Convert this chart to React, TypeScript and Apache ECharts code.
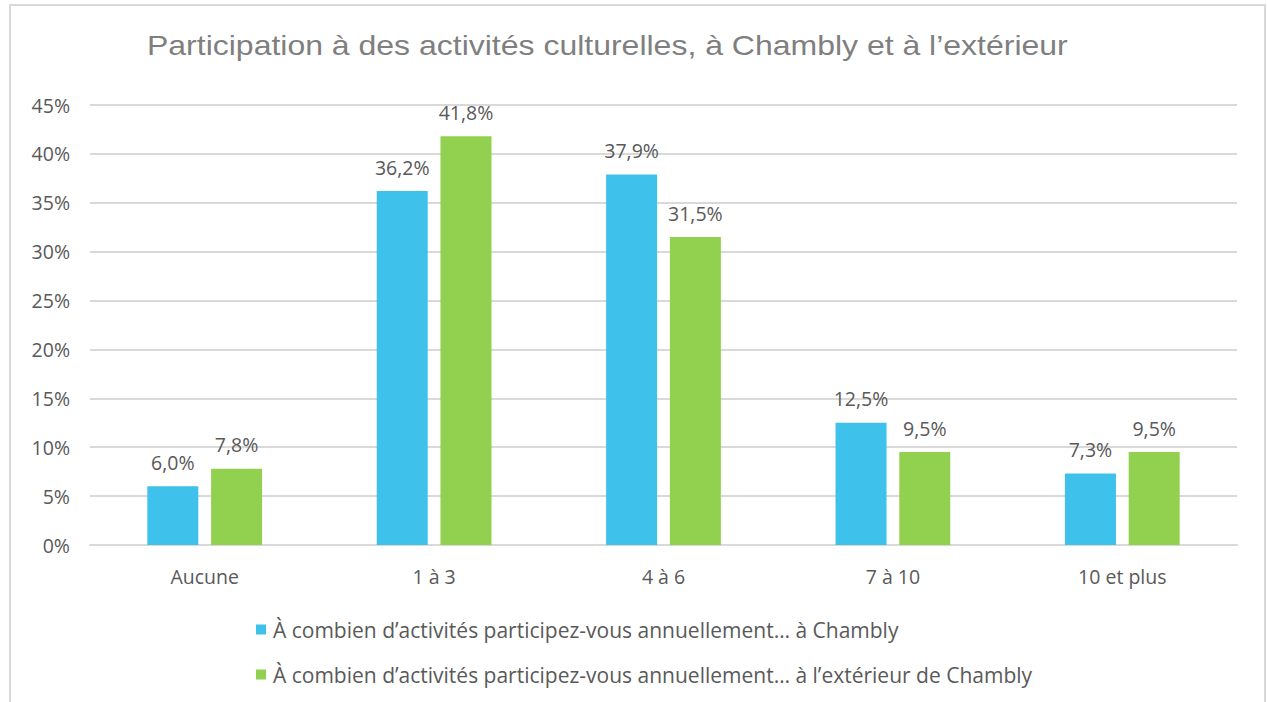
import React, { useEffect, useRef } from "react";
import * as echarts from "echarts";

const categories = ["Aucune", "1 à 3", "4 à 6", "7 à 10", "10 et plus"];
const chamblyValues = [6.0, 36.2, 37.9, 12.5, 7.3];
const exterieurValues = [7.8, 41.8, 31.5, 9.5, 9.5];
const seriesNames = [
  "À combien d’activités participez-vous annuellement… à Chambly",
  "À combien d’activités participez-vous annuellement… à l’extérieur de Chambly",
];
const titleText = "Participation à des activités culturelles, à Chambly et à l’extérieur";

const labelFont = "'Open Sans', 'Noto Sans', sans-serif";

export default function App() {
  const ref = useRef<HTMLDivElement>(null);
  useEffect(() => {
    if (!ref.current) return;
    const chart = echarts.init(ref.current, null, { renderer: "svg" });
    const fmt = (p: any) => p.value.toFixed(1).replace(".", ",") + "%";
    chart.setOption({
      animation: false,
      backgroundColor: "#ffffff",
      graphic: [
        {
          type: "rect",
          shape: { x: 10, y: 5, width: 1255, height: 720 },
          style: { fill: "none", stroke: "#d9d9d9", lineWidth: 2 },
          silent: true,
        },
        {
          type: "text",
          x: 147,
          y: 45,
          scaleX: 1.143,
          silent: true,
          style: {
            text: titleText,
            font: "28px 'Liberation Sans', Arial, sans-serif",
            fill: "#7f7f7f",
            verticalAlign: "middle",
            align: "left",
          },
        },
      ],
      grid: { left: 90, right: 30, top: 105, bottom: 157 },
      legend: {
        orient: "vertical",
        left: 251,
        top: 614,
        itemWidth: 10,
        itemHeight: 10,
        itemGap: 24,
        icon: "rect",
        textStyle: { fontFamily: labelFont, fontSize: 21, color: "#595959", padding: [0, 0, 0, 2] },
        data: seriesNames,
      },
      xAxis: {
        type: "category",
        data: categories,
        axisLine: { lineStyle: { color: "#d9d9d9", width: 2 } },
        axisTick: { show: false },
        axisLabel: { fontFamily: labelFont, fontSize: 19.5, color: "#595959", margin: 21 },
      },
      yAxis: {
        type: "value",
        min: 0,
        max: 45,
        interval: 5,
        axisLine: { show: false },
        axisTick: { show: false },
        splitLine: { lineStyle: { color: "#d9d9d9", width: 2 } },
        axisLabel: { fontFamily: labelFont, fontSize: 19.5, color: "#595959", margin: 20, formatter: "{value}%" },
      },
      series: [
        {
          name: seriesNames[0],
          type: "bar",
          data: chamblyValues,
          itemStyle: { color: "#3EC1EA" },
          barWidth: 51,
          barGap: "25%",
          label: { show: true, position: "top", distance: 14, formatter: fmt, fontFamily: labelFont, fontSize: 19.5, color: "#595959" },
        },
        {
          name: seriesNames[1],
          type: "bar",
          data: exterieurValues,
          itemStyle: { color: "#92D050" },
          barWidth: 51,
          barGap: "25%",
          label: { show: true, position: "top", distance: 14, formatter: fmt, fontFamily: labelFont, fontSize: 19.5, color: "#595959" },
        },
      ],
    });
    return () => chart.dispose();
  }, []);
  return <div ref={ref} style={{ position: "fixed", left: 0, top: 0, width: 1267, height: 702 }} />;
}
